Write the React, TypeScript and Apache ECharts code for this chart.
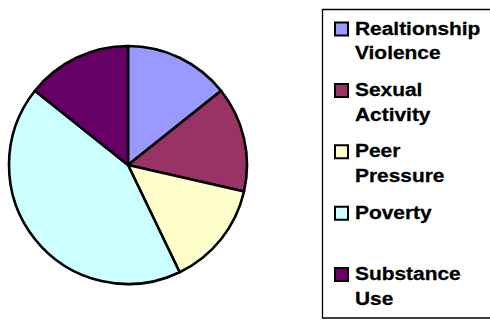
import React, { useEffect, useRef } from "react";
import * as echarts from "echarts";

const categories = ["Realtionship Violence", "Sexual Activity", "Peer Pressure", "Poverty", "Substance Use"];
const values = [1, 1, 1, 3, 1];
const palette = ["#9999FF", "#993366", "#FFFFCC", "#CCFFFF", "#660066"];

export default function App() {
  const ref = useRef<HTMLDivElement>(null);
  useEffect(() => {
    if (!ref.current) return;
    const chart = echarts.init(ref.current, null, { renderer: "svg" });
    const font = "Arial, 'Liberation Sans', Helvetica, sans-serif";
    const firstY = 28;
    const slot = 61.4;
    const lineGap = 24.5;
    const graphics: any[] = [
      {
        type: "rect",
        shape: { x: 322.5, y: 9.5, width: 180, height: 308.5 },
        style: { fill: "#fff", stroke: "#000", lineWidth: 1.3 },
        z: 1,
      },
    ];
    categories.forEach((name, i) => {
      const cy = firstY + i * slot;
      graphics.push({
        type: "rect",
        shape: { x: 335, y: cy - 5.5, width: 13, height: 13 },
        style: { fill: palette[i], stroke: "#000", lineWidth: 2 },
        z: 2,
      });
      name.split(" ").forEach((word, j) => {
        graphics.push({
          type: "text",
          x: 355,
          y: cy + j * lineGap,
          scaleX: 1.1,
          style: {
            text: word,
            fill: "#000",
            fontFamily: font,
            fontSize: 19,
            fontWeight: 800,
            align: "left",
            verticalAlign: "middle",
            stroke: "#000",
            lineWidth: 0.3,
          },
          z: 2,
        });
      });
    });
    chart.setOption({
      animation: false,
      backgroundColor: "#fff",
      color: palette,
      graphic: graphics,
      series: [
        {
          type: "pie",
          center: [128, 165],
          radius: 119,
          startAngle: 90,
          clockwise: true,
          label: { show: false },
          labelLine: { show: false },
          emphasis: { disabled: true },
          itemStyle: { borderColor: "#000", borderWidth: 2.6 },
          data: categories.map((name, i) => ({ name, value: values[i] })),
        },
      ],
    });
    return () => chart.dispose();
  }, []);
  return (
    <div
      ref={ref}
      style={{ position: "fixed", left: 0, top: 0, width: 490, height: 320 }}
    />
  );
}
